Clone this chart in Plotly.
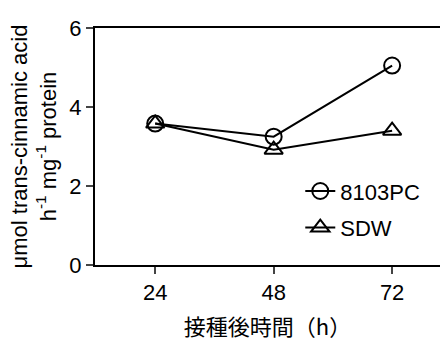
import plotly.graph_objects as go

hours = [24, 48, 72]
pc8103 = [3.58, 3.25, 5.05]
sdw = [3.58, 2.92, 3.4]
y_ticks = [0, 2, 4, 6]

fig = go.Figure()
fig.add_trace(go.Scatter(x=hours, y=pc8103, name="8103PC", mode="lines+markers",
    legendgroup="a",
    line=dict(color="black", width=2),
    marker=dict(symbol="circle-open", size=16, color="black", line=dict(width=2))))
fig.add_trace(go.Scatter(x=hours, y=sdw, name="SDW", mode="lines+markers",
    legendgroup="b",
    line=dict(color="black", width=2),
    marker=dict(symbol="triangle-up-open", size=16, color="black", line=dict(width=2))))

fig.update_layout(
    width=440, height=341,
    margin=dict(l=95, r=0, t=28, b=76),
    plot_bgcolor="white", paper_bgcolor="white",
    font=dict(family="Liberation Sans, Arial, Noto Sans CJK JP", size=22, color="black"),
    showlegend=True,
    legend=dict(x=0.595, y=0.40, xanchor="left", yanchor="top", bgcolor="rgba(0,0,0,0)",
                font=dict(size=22), itemwidth=30, tracegroupgap=5),
    xaxis=dict(range=[11.8, 81.7], tickvals=hours, ticks="outside", ticklen=7, tickwidth=2,
               showline=True, linewidth=2, linecolor="black", mirror=True, showgrid=False,
               zeroline=False,
               title=dict(text="接種後時間（h）", font=dict(family="Noto Sans CJK JP", size=22), standoff=18)),
    yaxis=dict(range=[0, 6], tickvals=y_ticks, ticks="outside", ticklen=7, tickwidth=2,
               showline=True, linewidth=2, linecolor="black", showgrid=False, zeroline=False,
               title=dict(text="μmol trans-cinnamic acid<br>h<sup>-1</sup> mg<sup>-1</sup> protein",
                          font=dict(size=22), standoff=7)),
)
fig.write_html("out.html")
